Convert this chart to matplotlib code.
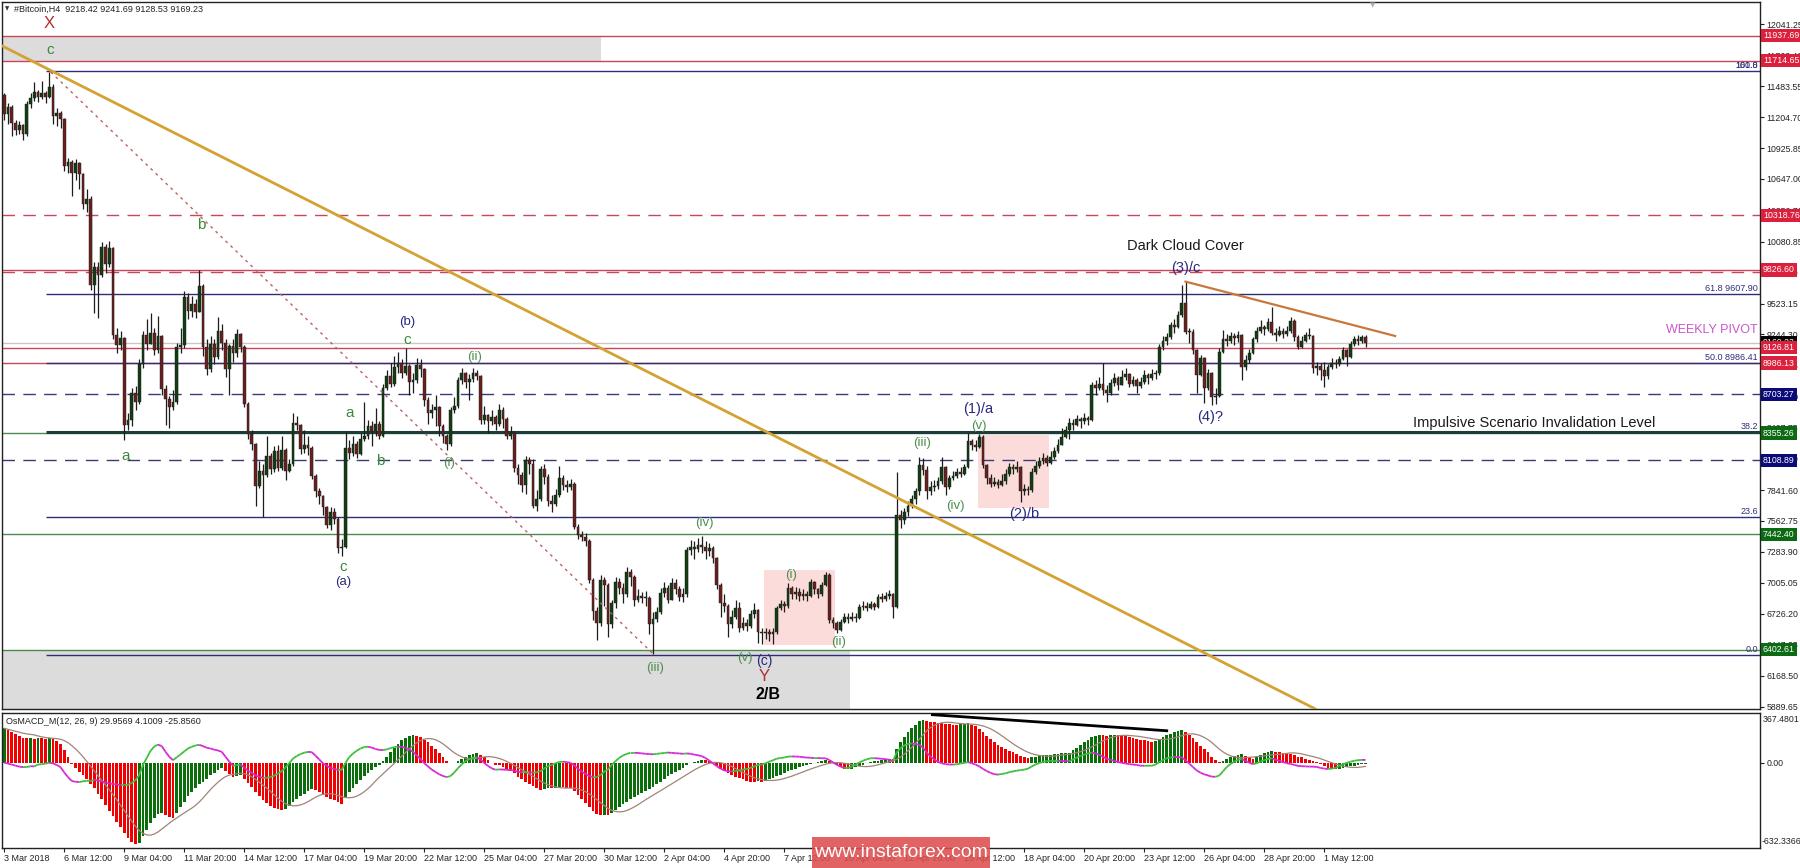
import numpy as np
import pandas as pd
import matplotlib
matplotlib.use("Agg")
import matplotlib.pyplot as plt
import matplotlib.transforms as mtransforms
from matplotlib.collections import LineCollection
from matplotlib.patches import Rectangle

plt.rcParams['font.family'] = ['Liberation Sans', 'DejaVu Sans']

W, H = 1800, 868

# H4 bars, open of a bar = close of the bar before
first_open = 11400
closes = [
    11230, 11300, 11150, 11090, 11130, 11050, 11320, 11380, 11430, 11390,
    11420, 11390, 11480, 11210, 11240, 11190, 10760, 10800, 10700, 10790,
    10690, 10420, 10470, 9690, 9850, 9780, 10030, 9880, 10020, 9240,
    9150, 9210, 8430, 8470, 8720, 8640, 8980, 9240, 9160, 9260,
    9100, 9230, 8750, 8660, 8590, 8640, 9130, 9150, 9580, 9460,
    9520, 9450, 9680, 9130, 8930, 9160, 9040, 9280, 9170, 8930,
    9140, 9080, 9250, 9130, 8620, 8350, 8260, 7880, 8010, 7980,
    8150, 8030, 8190, 8040, 8200, 8010, 8080, 8450, 8430, 8210,
    8250, 8220, 7970, 7830, 7790, 7690, 7530, 7640, 7580, 7320,
    7330, 8220, 8180, 8260, 8170, 8300, 8330, 8420, 8370, 8440,
    8330, 8760, 8870, 8800, 8950, 8990, 8900, 8960, 8820, 8830,
    8970, 8930, 8650, 8540, 8560, 8590, 8420, 8330, 8260, 8560,
    8600, 8830, 8900, 8820, 8840, 8900, 8870, 8470, 8520, 8460,
    8500, 8440, 8560, 8480, 8330, 8360, 8040, 7980, 7890, 8110,
    8080, 7700, 7760, 8030, 7960, 7740, 7720, 7800, 7950, 7890,
    7870, 7900, 7510, 7440, 7420, 7380, 7030, 6750, 6640, 7030,
    6990, 6630, 6820, 7010, 6960, 6900, 7100, 7060, 6850, 6890,
    6870, 6870, 6630, 6680, 6740, 6910, 6960, 6850, 7000, 6950,
    6880, 6900, 7300, 7330, 7310, 7350, 7330, 7290, 7320, 7230,
    6990, 6820, 6800, 6630, 6700, 6780, 6600, 6640, 6620, 6720,
    6760, 6560, 6550, 6560, 6540, 6560, 6780, 6810, 6800, 6960,
    6900, 6920, 6890, 6900, 6890, 7010, 6950, 6900, 6990, 7080,
    6670, 6640, 6580, 6650, 6700, 6680, 6700, 6690, 6790, 6800,
    6780, 6810, 6790, 6880, 6860, 6890, 6900, 6790, 7620, 7570,
    7640, 7700, 7760, 7830, 8070, 8020, 7830, 7870, 7880, 7920,
    8050, 7870, 7950, 7970, 8000, 7990, 8050, 8280, 8250, 8230,
    8320, 8070, 7950, 7900, 7910, 7890, 7920, 7990, 8050, 8030,
    8050, 7830, 7850, 7840, 8000, 8060, 8100, 8130, 8090, 8140,
    8190, 8250, 8320, 8380, 8450, 8430, 8480, 8460, 8490, 8470,
    8790, 8760, 8800, 8740, 8720, 8810, 8850, 8790, 8860, 8890,
    8800, 8830, 8780, 8820, 8880, 8850, 8890, 8900, 9130, 9190,
    9220, 9330, 9310, 9420, 9530, 9270, 9270, 9100, 8880, 9030,
    8760, 8900, 8680, 8690, 9090, 9200, 9190, 9230, 9210, 9240,
    8950, 9010, 9080, 9200, 9280, 9310, 9290, 9360, 9260, 9240,
    9280, 9250, 9280, 9370, 9220, 9130, 9190, 9240, 9230, 8940,
    8960, 8920, 8870, 8950, 8990, 8980, 9020, 9100, 9040, 9160,
    9200, 9190, 9218.42, 9169.23,
]
highs = [
    11420, 11330, 11310, 11180, 11170, 11140, 11350, 11420, 11520, 11450,
    11530, 11440, 11610, 11500, 11290, 11260, 11200, 10840, 10820, 10830,
    10800, 10700, 10560, 10490, 9900, 9900, 10080, 10060, 10090, 10030,
    9300, 9280, 9220, 8540, 8760, 8780, 9020, 9280, 9380, 9440,
    9300, 9410, 9240, 8790, 8690, 8740, 9170, 9300, 9640, 9620,
    9590, 9560, 9830, 9700, 9200, 9230, 9200, 9400, 9340, 9200,
    9160, 9200, 9290, 9260, 9150, 8640, 8380, 8270, 8100, 8080,
    8330, 8180, 8240, 8250, 8330, 8220, 8120, 8540, 8510, 8440,
    8380, 8330, 8240, 7990, 7860, 7800, 7700, 7690, 7680, 7600,
    7400, 8370, 8290, 8330, 8280, 8360, 8640, 8470, 8460, 8580,
    8460, 8800, 8920, 8990, 9050, 9090, 9020, 9124, 8980, 8900,
    9030, 9020, 8940, 8680, 8620, 8700, 8600, 8440, 8350, 8590,
    8680, 8860, 8940, 8910, 8890, 8943, 8920, 8880, 8600, 8530,
    8560, 8520, 8620, 8590, 8500, 8420, 8370, 8080, 8000, 8150,
    8140, 8120, 7840, 8060, 8080, 7990, 7800, 7850, 8060, 7980,
    7930, 7940, 7910, 7540, 7470, 7450, 7400, 7050, 6790, 7080,
    7060, 7000, 6850, 7060, 7050, 7000, 7149, 7130, 7080, 6950,
    6920, 6930, 6890, 6740, 6790, 6960, 7010, 6990, 7050, 7040,
    6980, 6960, 7330, 7390, 7380, 7410, 7428, 7380, 7360, 7340,
    7240, 7000, 6900, 6810, 6760, 6850, 6830, 6700, 6680, 6760,
    6820, 6770, 6600, 6600, 6590, 6600, 6800, 6850, 6840, 7005,
    6980, 6970, 6960, 6950, 6930, 7040, 7020, 6960, 7010, 7107,
    7090, 6700, 6660, 6680, 6730, 6730, 6740, 6730, 6810, 6840,
    6830, 6840, 6830, 6900, 6910, 6920, 6940, 6910, 8000, 7660,
    7680, 7740, 7800, 7860, 8140, 8130, 8060, 7920, 7930, 7960,
    8140, 8060, 7980, 8010, 8040, 8050, 8080, 8357, 8300, 8290,
    8350, 8340, 8080, 7990, 7960, 7940, 7990, 8030, 8090, 8080,
    8100, 8060, 7900, 7880, 8040, 8100, 8140, 8180, 8160, 8190,
    8230, 8300, 8400, 8420, 8490, 8480, 8520, 8500, 8540, 8510,
    8820, 8830, 8860, 8990, 8790, 8840, 8900, 8870, 8920, 8940,
    8900, 8870, 8850, 8860, 8920, 8900, 8930, 8920, 9160, 9230,
    9260, 9360, 9380, 9460, 9690, 9721, 9300, 9290, 9110, 9060,
    9040, 8930, 8910, 8760, 9120, 9285, 9250, 9270, 9260, 9280,
    9250, 9060, 9110, 9220, 9310, 9375, 9330, 9390, 9495, 9300,
    9320, 9300, 9320, 9400, 9380, 9240, 9230, 9270, 9300, 9240,
    9000, 8990, 9000, 8980, 9030, 9020, 9050, 9130, 9110, 9190,
    9230, 9240, 9240, 9241.69,
]
lows = [
    11180, 11140, 11030, 11040, 11050, 11000, 11030, 11290, 11350, 11340,
    11370, 11330, 11380, 11140, 11120, 11110, 10720, 10700, 10490, 10640,
    10560, 10380, 10350, 9650, 9440, 9390, 9760, 9800, 9850, 9200,
    9080, 9100, 8290, 8380, 8420, 8560, 8620, 8940, 9100, 9180,
    9060, 9080, 8700, 8430, 8400, 8560, 8620, 9080, 9120, 9380,
    9400, 9390, 9450, 9050, 8880, 8910, 8980, 9020, 9100, 8860,
    8700, 9000, 9040, 9090, 8590, 8300, 8200, 7700, 7860, 7600,
    7960, 7990, 8000, 8010, 8020, 7930, 8000, 8060, 8380, 8170,
    8180, 8160, 7940, 7780, 7720, 7620, 7500, 7480, 7540, 7270,
    7250, 7320, 8120, 8150, 8130, 8160, 8280, 8300, 8240, 8330,
    8300, 8320, 8740, 8770, 8780, 8900, 8850, 8880, 8700, 8720,
    8810, 8860, 8600, 8440, 8490, 8420, 8330, 8270, 8200, 8240,
    8540, 8580, 8800, 8760, 8650, 8820, 8830, 8440, 8440, 8360,
    8430, 8380, 8420, 8400, 8300, 8300, 8000, 7900, 7820, 7810,
    7990, 7680, 7650, 7740, 7900, 7700, 7640, 7700, 7780, 7840,
    7820, 7840, 7490, 7400, 7380, 7340, 7000, 6670, 6490, 6620,
    6800, 6520, 6600, 6780, 6900, 6820, 6880, 6980, 6800, 6830,
    6820, 6800, 6540, 6360, 6650, 6720, 6880, 6820, 6850, 6900,
    6840, 6830, 6880, 7260, 7220, 7280, 7270, 7220, 7250, 7180,
    6950, 6700, 6740, 6520, 6600, 6680, 6560, 6580, 6570, 6600,
    6690, 6460, 6450, 6500, 6480, 6450, 6540, 6760, 6740, 6780,
    6860, 6860, 6840, 6850, 6840, 6880, 6900, 6870, 6890, 6980,
    6640, 6600, 6555, 6570, 6640, 6640, 6660, 6650, 6680, 6760,
    6750, 6770, 6760, 6780, 6830, 6840, 6860, 6690, 6780, 7500,
    7540, 7610, 7680, 7720, 7800, 7980, 7760, 7800, 7830, 7850,
    7900, 7800, 7850, 7930, 7950, 7960, 7980, 8040, 8200, 8190,
    8220, 8040, 7900, 7870, 7880, 7860, 7880, 7900, 7970, 7990,
    8000, 7734, 7800, 7800, 7820, 7990, 8040, 8080, 8060, 8080,
    8120, 8180, 8260, 8310, 8300, 8380, 8420, 8400, 8440, 8430,
    8460, 8700, 8740, 8700, 8640, 8700, 8780, 8740, 8800, 8830,
    8770, 8780, 8720, 8760, 8800, 8800, 8830, 8840, 8880, 9100,
    9150, 9200, 9260, 9300, 9400, 9250, 9168, 9070, 8717, 8870,
    8627, 8740, 8609, 8620, 8680, 9080, 9140, 9170, 9150, 9180,
    8835, 8920, 8990, 9070, 9180, 9260, 9240, 9280, 9240, 9190,
    9230, 9210, 9230, 9260, 9190, 9110, 9120, 9180, 9200, 8900,
    8880, 8835, 8770, 8840, 8930, 8940, 8960, 9010, 8960, 9030,
    9140, 9150, 9170, 9128.53,
]
# OsMACD_M(12,26,9) histogram
macd_hist = [
    254, 240, 225, 210, 195, 185, 180, 182, 178, 183,
    180, 178, 182, 175, 160, 140, 90, 40, -10, -40,
    -70, -95, -125, -160, -190, -230, -270, -313, -355, -395,
    -437, -480, -520, -560, -585, -602, -595, -540, -500, -450,
    -410, -380, -370, -390, -405, -410, -370, -330, -290, -250,
    -220, -190, -160, -140, -120, -95, -75, -55, -42, -60,
    -85, -110, -100, -95, -120, -150, -180, -220, -250, -280,
    -300, -320, -335, -345, -350, -340, -320, -290, -270, -250,
    -230, -210, -195, -205, -220, -240, -255, -270, -280, -295,
    -305, -260, -220, -190, -160, -130, -100, -75, -55, -35,
    -15, 10, 40, 75, 110, 140, 165, 185, 200, 205,
    200, 190, 170, 150, 125, 100, 70, 40, 10, -5,
    0, 15, 30, 45, 55, 65, 70, 60, 40, 20,
    0, -15, -20, -30, -45, -60, -80, -105, -125, -140,
    -155, -175, -190, -200, -195, -190, -190, -185, -180, -180,
    -185, -190, -210, -240, -270, -300, -330, -360, -380, -390,
    -385, -390, -370, -350, -330, -310, -290, -270, -255, -240,
    -225, -210, -195, -180, -160, -140, -120, -100, -85, -70,
    -55, -40, -20, -5, 5, 15, 22, 20, 10, -5,
    -25, -45, -65, -80, -95, -105, -115, -125, -135, -140,
    -140, -135, -140, -135, -125, -115, -100, -90, -80, -65,
    -55, -45, -35, -28, -20, -12, -5, 5, 12, 20,
    15, 0, -15, -30, -45, -50, -45, -35, -25, -15,
    -5, 5, 10, 15, 20, 25, 28, 25, 100, 150,
    190, 225, 255, 280, 305, 316, 310, 304, 300, 293,
    290, 287, 285, 282, 280, 283, 285, 290, 280, 268,
    250, 225, 200, 175, 150, 130, 115, 100, 88, 75,
    62, 50, 38, 32, 38, 45, 50, 55, 58, 60,
    62, 65, 68, 70, 72, 90, 110, 130, 150, 170,
    190, 200, 205, 205, 200, 205, 206, 203, 200, 196,
    190, 185, 178, 170, 165, 160, 155, 158, 175, 190,
    205, 215, 225, 232, 238, 225, 205, 180, 150, 125,
    100, 75, 45, 20, 5, 15, 30, 40, 50, 58,
    62, 50, 38, 30, 40, 55, 68, 80, 89, 82,
    75, 70, 65, 62, 55, 45, 38, 30, 22, 15,
    5, -10, -25, -38, -45, -50, -45, -38, -32, -28,
    -22, -17, -12, -8,
]

date_labels = ["3 Mar 2018", "6 Mar 12:00", "9 Mar 04:00", "11 Mar 20:00", "14 Mar 12:00",
               "17 Mar 04:00", "19 Mar 20:00", "22 Mar 12:00", "25 Mar 04:00", "27 Mar 20:00",
               "30 Mar 12:00", "2 Apr 04:00", "4 Apr 20:00", "7 Apr 12:00", "10 Apr 04:00",
               "12 Apr 20:00", "15 Apr 12:00", "18 Apr 04:00", "20 Apr 20:00", "23 Apr 12:00",
               "26 Apr 04:00", "28 Apr 20:00", "1 May 12:00"]
price_ticks = [12041.25, 11762.40, 11483.55, 11204.70, 10925.85, 10647.00, 10359.70,
               10080.85, 9802.00, 9523.15, 9244.30, 8965.45, 8686.60, 8407.75, 8128.90,
               7841.60, 7562.75, 7283.90, 7005.05, 6726.20, 6447.35, 6168.50, 5889.65]

level_prices = [11937.69, 11714.65, 10318.76, 9826.60, 9126.81, 8986.13,
                8703.27, 8355.26, 8108.89, 7442.40, 6402.61]
level_kind = ['red', 'red', 'red', 'red', 'red', 'red',
              'navy', 'green', 'navy', 'green', 'green']
level_dashed = [False, False, True, False, False, False,
                True, False, True, False, False]
bid_price = 9169.23

fib_levels = [0.0, 23.6, 38.2, 50.0, 61.8, 100.0]
fib_low, fib_high = 6352.98, 11619.84

# ---------------------------------------------------------------
closes = np.array(closes, dtype=float)
opens = np.r_[first_open, closes[:-1]]
highs = np.maximum(np.array(highs, dtype=float), np.maximum(opens, closes))
lows = np.minimum(np.array(lows, dtype=float), np.minimum(opens, closes))
hist = np.array(macd_hist, dtype=float)
x = np.arange(len(closes))

fig = plt.figure(figsize=(W / 100, H / 100), dpi=100)
ax = fig.add_axes([2 / W, 1 - 709 / H, 1758 / W, 707 / H])
ax2 = fig.add_axes([2 / W, 1 - 848 / H, 1758 / W, 135 / H])

xmin, xmax = -0.6, 468.2
ax.set_xlim(xmin, xmax)
ax2.set_xlim(xmin, xmax)
ax.set_ylim(5867.5, 12242.3)
ax2.set_ylim(-632.3366, 367.4801)

for a in (ax, ax2):
    for s in a.spines.values():
        s.set_linewidth(1.0)
        s.set_color('#222222')

colors = {'red': '#dc1f3c', 'navy': '#0a0a78', 'green': '#0b6a12'}
line_colors = {'red': '#c9475b', 'navy': '#3a3a78', 'green': '#4d8a4d'}
AXFS = 6.3

# shaded zones
ax.add_patch(Rectangle((xmin, 11714.65), 159.2 - xmin, 11937.69 - 11714.65,
                       fc='#dcdcdc', ec='none', zorder=0))
ax.add_patch(Rectangle((xmin, 5800), 225.6 - xmin, 6402.61 - 5800,
                       fc='#dcdcdc', ec='none', zorder=0))
ax.add_patch(Rectangle((202.7, 6446), 18.9, 7122 - 6446, fc='#fbdcdb', ec='none', zorder=0.5))
ax.add_patch(Rectangle((259.7, 7683), 19.0, 8339 - 7683, fc='#fbdcdb', ec='none', zorder=0.5))

# horizontal levels
for p, k, d in zip(level_prices, level_kind, level_dashed):
    ls = (0, (9, 6)) if d else '-'
    ax.axhline(p, color=line_colors[k], lw=1.0, ls=ls, zorder=1)
ax.axhline(9805, color=line_colors['red'], lw=1.0, ls=(0, (9, 6)), zorder=1)
ax.axhline(bid_price, color='#c8c8c8', lw=1.0, zorder=1)

# fibonacci retracement
fib_start = 11.2
ftrans = mtransforms.blended_transform_factory(ax.transAxes, ax.transData)
for lv in fib_levels:
    p = fib_low + lv / 100 * (fib_high - fib_low)
    if lv == 38.2:
        ax.hlines(p, fib_start, xmax, color='#1e3c3c', lw=2.2, zorder=1.5)
    else:
        ax.hlines(p, fib_start, xmax, color='#2e2e78', lw=1.0, zorder=1.5)
    if lv in (50.0, 61.8):
        txt = f"{lv:.1f} {p:.2f}"
    else:
        txt = f"{lv:.1f}"
    ax.text(1 - 2 / 1758, p + 12, txt, transform=ftrans,
            ha='right', va='bottom', fontsize=6.5, color='#2e2e78', zorder=6)
ax.text(1 - 2 / 1758, fib_high + 12, "161.8", transform=ftrans,
        ha='right', va='bottom', fontsize=6.5, color='#2e2e78', zorder=6)

# candles
up = closes >= opens
body_lo = np.minimum(opens, closes)
body_h = np.maximum(np.abs(closes - opens), 10)
ax.vlines(x, lows, highs, color='#1c1c1c', lw=0.9, zorder=3)
ax.bar(x, body_h, bottom=body_lo, width=0.7,
       color=np.where(up, '#123c12', '#6a1f1f'), edgecolor='#1c1c1c', lw=0.3, zorder=3.1)

# trend lines
ax.axline((-0.53, 11845.6), (349.6, 5868.6), color='#d4a232', lw=2.0, zorder=4)
ax.plot([12.4, 173.5], [11611, 6350], color='#b96262', lw=1.0, ls=(0, (2, 3)), zorder=4)
ax.plot([315, 370.9], [9721, 9231], color='#c8783c', lw=1.6, zorder=4)

# wave labels
GREEN = '#3a8a3a'
ROMAN = '#4f8f4f'
NAVY = '#2a2a80'
DRED = '#b03030'

def lab(i, p, s, color, size=11, **kw):
    ax.text(i, p, s, color=color, fontsize=size, ha='center', va='center', zorder=6, **kw)

lab(12, 12050, "X", DRED, 12)
lab(12.3, 11809, "c", GREEN, 11)
lab(52.5, 10232, "b", GREEN, 11)
lab(32.3, 8152, "a", GREEN, 11)
lab(90.3, 7151, "c", GREEN, 11)
lab(90.3, 7016, "(a)", NAVY, 9.5)
lab(92, 8540, "a", GREEN, 11)
lab(100.3, 8105, "b", GREEN, 11)
lab(107.5, 9358, "(b)", NAVY, 9.5)
lab(107.5, 9196, "c", GREEN, 11)
lab(125.5, 9045, "(ii)", ROMAN, 9.5)
lab(118.6, 8090, "(i)", ROMAN, 9.5)
lab(186.7, 7548, "(iv)", ROMAN, 9.5)
lab(209.8, 7079, "(i)", ROMAN, 9.5)
lab(173.6, 6238, "(iii)", ROMAN, 9.5)
lab(197.6, 6328, "(v)", ROMAN, 9.5)
lab(202.7, 6304, "(c)", NAVY, 10)
lab(202.7, 6160, "Y", DRED, 12)
lab(203.7, 5995, "2/B", 'black', 11.5, fontweight='bold')
lab(222.6, 6475, "(ii)", ROMAN, 9.5)
lab(253.6, 7701, "(iv)", ROMAN, 9.5)
lab(244.8, 8267, "(iii)", ROMAN, 9.5)
lab(259.9, 8423, "(v)", ROMAN, 9.5)
lab(259.7, 8573, "(1)/a", NAVY, 10.5)
lab(271.9, 7627, "(2)/b", NAVY, 10.5)
lab(315, 10045, "Dark Cloud Cover", '#1a1a1a', 10.5)
lab(315, 9842, "(3)/c", NAVY, 10.5)
lab(321.7, 8504, "(4)?", NAVY, 10.5)
ax.text(440.3, 8450, "Impulsive Scenario Invalidation Level", ha='right', va='center',
        fontsize=10.5, color='#1a1a1a', zorder=6)
ax.text(467.5, 9285, "WEEKLY PIVOT", ha='right', va='center', fontsize=9, color='#cc55cc', zorder=6)

# right price axis
ax.set_xticks([])
ax.set_yticks(price_ticks)
ax.set_yticklabels([f"{p:.2f}" for p in price_ticks])
ax.tick_params(axis='y', left=False, labelleft=False, right=True, labelright=True,
               direction='out', length=3, width=0.8, pad=1.5, labelsize=AXFS, colors='#222222')
trans = mtransforms.blended_transform_factory(ax.transAxes, ax.transData)
ax.text(1 + 3 / 1758, bid_price, f"{bid_price:.2f}", transform=trans, ha='left', va='center',
        fontsize=AXFS, color='white', clip_on=False, zorder=7,
        bbox=dict(boxstyle='square,pad=0.25', fc='black', ec='none'))
for p, k in zip(level_prices, level_kind):
    ax.text(1 + 3 / 1758, p, f"{p:.2f}", transform=trans, ha='left', va='center',
            fontsize=AXFS, color='white', clip_on=False, zorder=8,
            bbox=dict(boxstyle='square,pad=0.25', fc=colors[k], ec='none'))

# oscillator
signal = pd.Series(hist).rolling(9, min_periods=1).mean().values
osma = hist - signal
rising = np.r_[True, hist[1:] > hist[:-1]]
ax2.bar(x, hist, width=0.78, color=np.where(rising, '#0a6e0a', '#f00000'), lw=0, zorder=2)
ax2.plot(x, signal, color='#a08478', lw=0.9, zorder=3)
segs = np.stack([np.c_[x[:-1], osma[:-1]], np.c_[x[1:], osma[1:]]], axis=1)
seg_col = np.where(osma[1:] >= osma[:-1], '#3fbf3f', '#d52ad5')
ax2.add_collection(LineCollection(segs, colors=seg_col, lw=1.3, zorder=4))
ax2.plot([247.5, 310], [355, 236], color='black', lw=2.0, zorder=5)

ax2.set_yticks([0])
ax2.set_yticklabels(["0.00"])
ax2.tick_params(axis='y', left=False, labelleft=False, right=True, labelright=True,
                direction='out', length=3, width=0.8, pad=1.5, labelsize=AXFS, colors='#222222')
ax2.text(1 + 3 / 1758, 1 - 1.5 / 135, "367.4801", transform=ax2.transAxes, ha='left', va='top',
         fontsize=AXFS, color='#222222', clip_on=False)
ax2.text(1 + 2 / 1758, 1.5 / 135, "-632.3366", transform=ax2.transAxes, ha='left', va='bottom',
         fontsize=AXFS, color='#222222', clip_on=False)
ax2.text(4 / 1758, 1 - 8 / 135, "OsMACD_M(12, 26, 9) 29.9569 4.1009 -25.8560", transform=ax2.transAxes,
         ha='left', va='center', fontsize=6.5, color='#222222')

ax2.set_xticks(np.arange(len(date_labels)) * 16)
ax2.set_xticklabels(date_labels)
ax2.tick_params(axis='x', direction='out', length=3, width=0.8, pad=1.5, labelsize=6.5, colors='#222222')
for t in ax2.get_xticklabels():
    t.set_ha('left')

# header and watermark
fig.text(5 / W, 1 - 9 / H, "\u25bc", family='DejaVu Sans', fontsize=4, va='center', color='#333333')
fig.text(14 / W, 1 - 9 / H, "#Bitcoin,H4  9218.42 9241.69 9128.53 9169.23", fontsize=6.5,
         va='center', color='#222222')
fig.text(1373 / W, 1 - 5 / H, "\u25bc", family='DejaVu Sans', fontsize=5, va='center', ha='center',
         color='#b0b0b0')
fig.patches.append(Rectangle((812 / W, 0), 178 / W, 31 / H, transform=fig.transFigure,
                             fc=(0.87, 0.30, 0.30, 0.88), ec='none', zorder=10))
fig.text(901 / W, 15.5 / H, "www.instaforex.com", fontsize=14, color='white',
         ha='center', va='center', zorder=11)

fig.savefig("out.png", dpi=100)
